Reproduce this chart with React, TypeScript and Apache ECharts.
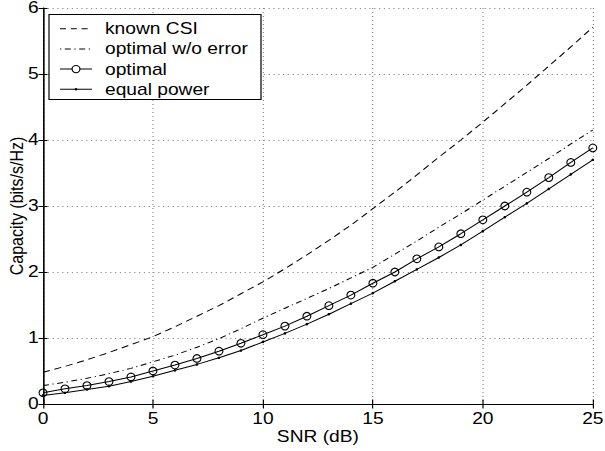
import React, { useEffect, useRef } from "react";
import * as echarts from "echarts";

const snr = [0,1,2,3,4,5,6,7,8,9,10,11,12,13,14,15,16,17,18,19,20,21,22,23,24,25];
const knownCSI = [0.48,0.57,0.67,0.78,0.90,1.02,1.17,1.33,1.49,1.67,1.85,2.05,2.26,2.48,2.71,2.96,3.21,3.47,3.74,4.00,4.27,4.55,4.83,5.12,5.41,5.71];
const optimalNoError = [0.28,0.33,0.39,0.46,0.54,0.64,0.74,0.86,0.99,1.14,1.30,1.45,1.60,1.75,1.91,2.07,2.27,2.47,2.68,2.88,3.09,3.30,3.51,3.72,3.94,4.15];
const optimal = [0.17,0.23,0.28,0.34,0.41,0.50,0.59,0.69,0.80,0.92,1.05,1.18,1.33,1.49,1.65,1.83,2.00,2.20,2.38,2.58,2.79,3.00,3.21,3.43,3.66,3.88];
const equalPower = [0.13,0.17,0.22,0.27,0.34,0.42,0.51,0.60,0.70,0.81,0.94,1.07,1.21,1.36,1.52,1.68,1.86,2.04,2.22,2.41,2.62,2.83,3.04,3.26,3.48,3.70];
const legendLabels = ["known CSI", "optimal w/o error", "optimal", "equal power"];

const FONT = "Liberation Sans, Arial, Helvetica, sans-serif";
// the reference picture is horizontally stretched; render narrower and stretch
const SX = 1.2;
const W = 605 / SX;
const H = 451;

export default function App() {
  const ref = useRef<HTMLDivElement>(null);
  useEffect(() => {
    if (!ref.current) return;
    const chart = echarts.init(ref.current, undefined, { renderer: "svg" });
    const pair = (ys: number[]) => snr.map((x, i) => [x, ys[i]]);
    const gridLine = { show: true, lineStyle: { color: "#8a8a8a", type: [1, 3] as any, width: 1 } };
    const rowY = [28.7, 48.9, 69.1, 89.3];
    const lx1 = 60 / SX, lx2 = 92 / SX, tx = 105 / SX;
    const legendGraphics: any[] = [
      { type: "rect", shape: { x: 49 / SX, y: 14.5, width: 212 / SX, height: 85 }, style: { fill: "#fff", stroke: "#000", lineWidth: 1 }, z: 100 },
      { type: "line", shape: { x1: lx1, y1: rowY[0], x2: lx2, y2: rowY[0] }, style: { stroke: "#000", lineWidth: 1, lineDash: [5, 4] }, z: 101 },
      { type: "line", shape: { x1: lx1, y1: rowY[1], x2: lx2, y2: rowY[1] }, style: { stroke: "#000", lineWidth: 1, lineDash: [1, 3, 5, 3] }, z: 101 },
      { type: "line", shape: { x1: lx1, y1: rowY[2], x2: lx2, y2: rowY[2] }, style: { stroke: "#000", lineWidth: 1 }, z: 101 },
      { type: "ellipse", shape: { cx: (lx1 + lx2) / 2, cy: rowY[2], rx: 3.3, ry: 3.6 }, style: { fill: "#fff", stroke: "#000", lineWidth: 1 }, z: 102 },
      { type: "line", shape: { x1: lx1, y1: rowY[3], x2: lx2, y2: rowY[3] }, style: { stroke: "#000", lineWidth: 1 }, z: 101 },
      { type: "circle", shape: { cx: (lx1 + lx2) / 2, cy: rowY[3], r: 1.2 }, style: { fill: "#000" }, z: 102 },
    ];
    legendLabels.forEach((t, i) => {
      legendGraphics.push({
        type: "text", x: tx, y: rowY[i], z: 103,
        style: { text: t, fill: "#000", font: `16px ${FONT}`, verticalAlign: "middle", align: "left" },
      });
    });

    chart.setOption({
      animation: false,
      backgroundColor: "#fff",
      grid: { left: 43 / SX, right: 12 / SX, top: 8, bottom: 47, containLabel: false, outerBoundsMode: "none" },
      xAxis: [
        {
          type: "value", min: 0, max: 25, interval: 5,
          name: "SNR (dB)", nameLocation: "middle", nameGap: 25, nameMoveOverlap: false,
          nameTextStyle: { color: "#000", fontSize: 16, fontFamily: FONT },
          axisLine: { show: true, lineStyle: { color: "#000", width: 1 } },
          axisTick: { show: true, inside: true, length: 4.5, lineStyle: { color: "#000" } },
          axisLabel: { color: "#000", fontSize: 16, fontFamily: FONT, margin: 7 },
          splitLine: gridLine,
        },
        {
          type: "value", min: 0, max: 25, interval: 5, position: "top",
          axisLine: { show: true, lineStyle: { color: "#000", width: 1 } },
          axisTick: { show: true, inside: true, length: 4.5, lineStyle: { color: "#000" } },
          axisLabel: { show: false },
          splitLine: { show: false },
        },
      ],
      yAxis: [
        {
          type: "value", min: 0, max: 6, interval: 1,
          name: "Capacity (bits/s/Hz)", nameLocation: "middle", nameGap: 14, nameMoveOverlap: false,
          nameTextStyle: { color: "#000", fontSize: 16, fontFamily: FONT },
          axisLine: { show: true, lineStyle: { color: "#000", width: 1 } },
          axisTick: { show: true, inside: true, length: 4.5 / SX, lineStyle: { color: "#000" } },
          axisLabel: { color: "#000", fontSize: 16, fontFamily: FONT, margin: 3.5 },
          splitLine: gridLine,
        },
        {
          type: "value", min: 0, max: 6, interval: 1, position: "right",
          axisLine: { show: true, lineStyle: { color: "#000", width: 1 } },
          axisTick: { show: true, inside: true, length: 4.5 / SX, lineStyle: { color: "#000" } },
          axisLabel: { show: false },
          splitLine: { show: false },
        },
      ],
      series: [
        {
          name: legendLabels[0], type: "line", data: pair(knownCSI), showSymbol: false, symbol: "none",
          lineStyle: { color: "#000", width: 1, type: [6, 4] as any },
        },
        {
          name: legendLabels[1], type: "line", data: pair(optimalNoError), showSymbol: false, symbol: "none",
          lineStyle: { color: "#000", width: 1, type: [5, 3, 1, 3] as any },
        },
        {
          name: legendLabels[2], type: "line", data: pair(optimal), symbol: "circle", symbolSize: [6.6, 7.6],
          itemStyle: { color: "rgba(255,255,255,0)", borderColor: "#000", borderWidth: 1 },
          lineStyle: { color: "#000", width: 1 },
        },
        {
          name: legendLabels[3], type: "line", data: pair(equalPower), symbol: "circle", symbolSize: [2.2, 2.6],
          itemStyle: { color: "#000", borderWidth: 0 },
          lineStyle: { color: "#000", width: 1 },
        },
      ],
      graphic: legendGraphics,
    });
    return () => chart.dispose();
  }, []);
  return (
    <div
      ref={ref}
      style={{
        position: "absolute", left: 0, top: 0, width: W, height: H,
        transform: `scaleX(${SX})`, transformOrigin: "0 0",
      }}
    />
  );
}
